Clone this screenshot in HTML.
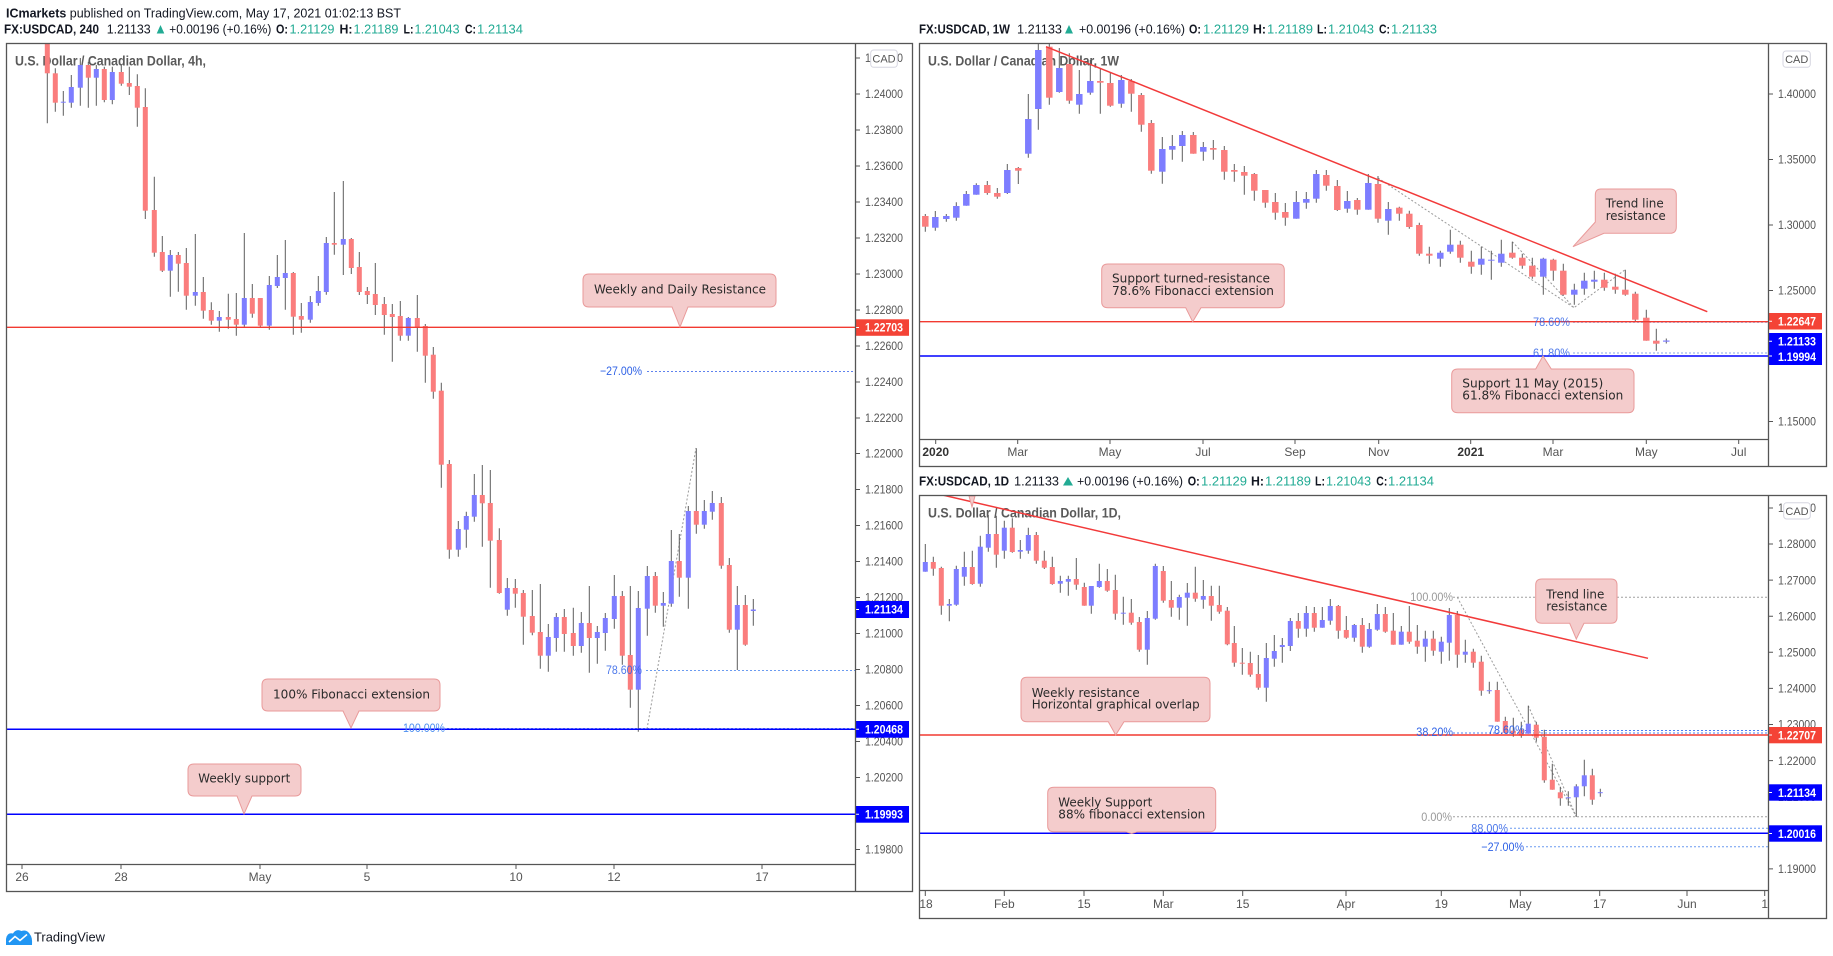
<!DOCTYPE html>
<html><head><meta charset="utf-8"><style>
html,body{margin:0;padding:0;background:#fff;}
svg{display:block;font-family:"Liberation Sans",sans-serif;}
.ax{font-size:12px;fill:#555;}
.lb{font-size:12px;font-weight:bold;fill:#fff;}
.an{font-family:"DejaVu Sans","Liberation Sans",sans-serif;font-size:12.5px;fill:#2a2a2a;}
.fb{font-size:12px;fill:#2f62e6;}
.fg{font-size:12px;fill:#9a9a9a;}
.tt{font-size:14px;font-weight:bold;fill:#5a5a5a;}
.hd{font-size:12.5px;fill:#131722;}
.hb{font-size:12.5px;fill:#131722;font-weight:bold;}
.hv{font-size:12.5px;fill:#22ab94;}
</style></head><body>
<svg width="1833" height="956" viewBox="0 0 1833 956" xmlns="http://www.w3.org/2000/svg">
<defs>
<clipPath id="cL"><rect x="7" y="44" width="848" height="820"/></clipPath>
<clipPath id="cW"><rect x="920" y="44" width="848" height="395"/></clipPath>
<clipPath id="cD"><rect x="920" y="496" width="848" height="394"/></clipPath>
<clipPath id="cWt"><rect x="920" y="440" width="848" height="26"/></clipPath>
<clipPath id="cDt"><rect x="920" y="891" width="848" height="27"/></clipPath>
</defs>
<rect width="1833" height="956" fill="#fff"/>

<!-- HEADERS -->
<text x="6" y="17.4" class="hd" textLength="395" lengthAdjust="spacingAndGlyphs"><tspan font-weight="bold">ICmarkets</tspan> published on TradingView.com, May 17, 2021 01:02:13 BST</text>

<g>
<text x="4" y="33.4" class="hb" textLength="95" lengthAdjust="spacingAndGlyphs">FX:USDCAD, 240</text>
<text x="106.7" y="33.4" class="hd" textLength="44" lengthAdjust="spacingAndGlyphs">1.21133</text>
<polygon points="156.7,33.5 164.3,33.5 160.5,25" fill="#22ab94"/>
<text x="169.3" y="33.4" class="hd" textLength="102" lengthAdjust="spacingAndGlyphs">+0.00196 (+0.16%)</text>
<text x="276" y="33.4" class="hb" textLength="12" lengthAdjust="spacingAndGlyphs">O:</text>
<text x="289.5" y="33.4" class="hv" textLength="45" lengthAdjust="spacingAndGlyphs">1.21129</text>
<text x="339.5" y="33.4" class="hb" textLength="13" lengthAdjust="spacingAndGlyphs">H:</text>
<text x="353.5" y="33.4" class="hv" textLength="45" lengthAdjust="spacingAndGlyphs">1.21189</text>
<text x="403.5" y="33.4" class="hb" textLength="10" lengthAdjust="spacingAndGlyphs">L:</text>
<text x="414.5" y="33.4" class="hv" textLength="45" lengthAdjust="spacingAndGlyphs">1.21043</text>
<text x="465" y="33.4" class="hb" textLength="11" lengthAdjust="spacingAndGlyphs">C:</text>
<text x="477" y="33.4" class="hv" textLength="46" lengthAdjust="spacingAndGlyphs">1.21134</text>
</g>

<g>
<text x="919" y="33.4" class="hb" textLength="91" lengthAdjust="spacingAndGlyphs">FX:USDCAD, 1W</text>
<text x="1017" y="33.4" class="hd" textLength="45" lengthAdjust="spacingAndGlyphs">1.21133</text>
<polygon points="1065,33.5 1073,33.5 1069,25" fill="#22ab94"/>
<text x="1079" y="33.4" class="hd" textLength="106" lengthAdjust="spacingAndGlyphs">+0.00196 (+0.16%)</text>
<text x="1189" y="33.4" class="hb" textLength="12" lengthAdjust="spacingAndGlyphs">O:</text>
<text x="1203" y="33.4" class="hv" textLength="46" lengthAdjust="spacingAndGlyphs">1.21129</text>
<text x="1253" y="33.4" class="hb" textLength="13" lengthAdjust="spacingAndGlyphs">H:</text>
<text x="1267" y="33.4" class="hv" textLength="46" lengthAdjust="spacingAndGlyphs">1.21189</text>
<text x="1317" y="33.4" class="hb" textLength="10" lengthAdjust="spacingAndGlyphs">L:</text>
<text x="1328" y="33.4" class="hv" textLength="46" lengthAdjust="spacingAndGlyphs">1.21043</text>
<text x="1379" y="33.4" class="hb" textLength="11" lengthAdjust="spacingAndGlyphs">C:</text>
<text x="1391" y="33.4" class="hv" textLength="46" lengthAdjust="spacingAndGlyphs">1.21133</text>
</g>

<g>
<text x="919" y="485.4" class="hb" textLength="90" lengthAdjust="spacingAndGlyphs">FX:USDCAD, 1D</text>
<text x="1014" y="485.4" class="hd" textLength="45" lengthAdjust="spacingAndGlyphs">1.21133</text>
<polygon points="1063,485.5 1073,485.5 1068,477" fill="#22ab94"/>
<text x="1077" y="485.4" class="hd" textLength="106" lengthAdjust="spacingAndGlyphs">+0.00196 (+0.16%)</text>
<text x="1187.7" y="485.4" class="hb" textLength="12" lengthAdjust="spacingAndGlyphs">O:</text>
<text x="1201" y="485.4" class="hv" textLength="46" lengthAdjust="spacingAndGlyphs">1.21129</text>
<text x="1251" y="485.4" class="hb" textLength="13" lengthAdjust="spacingAndGlyphs">H:</text>
<text x="1265" y="485.4" class="hv" textLength="46" lengthAdjust="spacingAndGlyphs">1.21189</text>
<text x="1315" y="485.4" class="hb" textLength="10" lengthAdjust="spacingAndGlyphs">L:</text>
<text x="1326" y="485.4" class="hv" textLength="45" lengthAdjust="spacingAndGlyphs">1.21043</text>
<text x="1376.3" y="485.4" class="hb" textLength="11" lengthAdjust="spacingAndGlyphs">C:</text>
<text x="1388" y="485.4" class="hv" textLength="46" lengthAdjust="spacingAndGlyphs">1.21134</text>
</g>

<!-- ================= LEFT PANEL (4h) ================= -->
<g clip-path="url(#cL)">
<text x="15" y="65.5" class="tt" textLength="191" lengthAdjust="spacingAndGlyphs">U.S. Dollar / Canadian Dollar, 4h,</text>
<!-- fib dotted -->
<g fill="none" stroke-width="1" stroke-dasharray="2 2">
<line x1="647" y1="371.5" x2="855" y2="371.5" stroke="#5f82ee"/>
<line x1="646" y1="670.5" x2="855" y2="670.5" stroke="#6a9af0"/>
<line x1="447" y1="728.5" x2="855" y2="728.5" stroke="#6a9af0"/>
<line x1="647" y1="729" x2="696" y2="448" stroke="#9a9a9a"/>
</g>
<path fill="none" stroke="#5d5d5d" stroke-width="1" d="M47.3 30V123.3 M55.3 68.3V111.7 M63.3 91V115.7 M71.3 75V107.7 M80.3 58V105.7 M88.3 61.7V107.7 M96.3 65V105.7 M104.3 66.7V102.3 M112.3 66.7V104.3 M121.3 65V85.7 M129.3 66.7V95 M137.3 74.3V126.7 M145.3 88.3V219 M154.3 176.7V256.7 M162.3 236V272 M170.3 250V296.7 M178.3 252V291.7 M186.3 248V309.7 M195.3 234V305.7 M203.3 277V318.7 M211.3 302.3V324.7 M219.3 311V331.7 M228.3 293.7V328.7 M236.3 293V335.7 M244.3 233V326.7 M252.3 284V317.7 M260.3 298V326.7 M269.3 276V329.7 M277.3 255V288 M285.3 240V309.7 M293.3 272V334.7 M301.3 303V332.7 M310.3 296V322.7 M318.3 276V305.7 M326.3 237V294.7 M334.3 192V254.7 M343.3 181V275 M351.3 238V274 M359.3 252V295 M367.3 287V304 M375.3 263V315 M384.3 297V334.7 M392.3 304V361.7 M400.3 301V340.7 M408.3 317V340.7 M417.3 295V351.7 M425.3 324V382.7 M433.3 347V398.7 M441.3 382.7V487.7 M449.3 460V558.7 M458.3 521V556.7 M466.3 511.7V547.7 M474.3 474V521.7 M482.3 465V546.7 M490.3 470V587.7 M499.3 528.3V593.7 M507.3 578V615.7 M515.3 579V607.7 M523.3 590V644.7 M532.3 590V635.3 M540.3 584V668.7 M548.3 624V671.7 M556.3 613V651.7 M564.3 609V651.7 M573.3 607.7V655.7 M581.3 612V652.7 M589.3 586V672.7 M597.3 626V663.7 M605.3 613V650.7 M614.3 575V628.7 M622.3 591V664.7 M630.3 586V707.7 M638.3 591V731.7 M647.3 566V635.7 M655.3 572V612.7 M663.3 592V626.7 M671.3 530V606.7 M679.3 534V596.7 M688.3 506V608.7 M696.3 448.3V533.7 M704.3 500V528.7 M712.3 491V519.7 M721.3 497V568.7 M729.3 558V632.7 M737.3 586V670 M745.3 595V645.7 M753.3 599V625.7"/>
<g fill="#fa7d7d">
<rect x="44.8" y="30" width="5" height="43.3"/><rect x="52.8" y="73.3" width="5" height="29.4"/><rect x="85.8" y="65" width="5" height="12.7"/><rect x="101.8" y="69" width="5" height="31"/><rect x="118.8" y="72" width="5" height="11.7"/><rect x="126.8" y="83" width="5" height="3.7"/><rect x="134.8" y="86" width="5" height="21.7"/><rect x="142.8" y="107" width="5" height="103.7"/><rect x="151.8" y="210" width="5" height="42.7"/><rect x="159.8" y="252" width="5" height="18.7"/><rect x="175.8" y="255" width="5" height="8.7"/><rect x="183.8" y="263" width="5" height="32.7"/><rect x="200.8" y="292" width="5" height="18.7"/><rect x="208.8" y="310" width="5" height="10.7"/><rect x="225.8" y="317" width="5" height="2.7"/><rect x="233.8" y="319" width="5" height="5.7"/><rect x="249.8" y="298" width="5" height="15.7"/><rect x="257.8" y="298" width="5" height="27.7"/><rect x="290.8" y="273" width="5" height="43.7"/><rect x="298.8" y="316" width="5" height="3.7"/><rect x="331.8" y="243" width="5" height="1.7"/><rect x="348.8" y="239" width="5" height="29"/><rect x="356.8" y="267" width="5" height="25"/><rect x="364.8" y="291" width="5" height="4"/><rect x="372.8" y="294" width="5" height="11"/><rect x="381.8" y="304" width="5" height="11"/><rect x="389.8" y="314" width="5" height="3"/><rect x="397.8" y="316" width="5" height="19.7"/><rect x="414.8" y="318" width="5" height="9.7"/><rect x="422.8" y="326" width="5" height="29.7"/><rect x="430.8" y="354.7" width="5" height="37"/><rect x="438.8" y="390.7" width="5" height="74"/><rect x="446.8" y="464" width="5" height="85.7"/><rect x="479.8" y="495" width="5" height="8.3"/><rect x="487.8" y="503" width="5" height="37.7"/><rect x="496.8" y="540" width="5" height="53"/><rect x="512.8" y="588" width="5" height="5.7"/><rect x="520.8" y="593" width="5" height="23.7"/><rect x="529.8" y="616" width="5" height="16.7"/><rect x="537.8" y="632" width="5" height="23.7"/><rect x="561.8" y="617" width="5" height="17"/><rect x="570.8" y="633" width="5" height="13"/><rect x="586.8" y="623" width="5" height="15"/><rect x="619.8" y="596" width="5" height="59.7"/><rect x="627.8" y="655" width="5" height="34.7"/><rect x="652.8" y="576" width="5" height="29.7"/><rect x="676.8" y="561" width="5" height="16.7"/><rect x="693.8" y="511" width="5" height="13.7"/><rect x="718.8" y="503" width="5" height="62.7"/><rect x="726.8" y="565" width="5" height="64.7"/><rect x="742.8" y="605" width="5" height="39.7"/>
</g>
<g fill="#7d7dff">
<rect x="60.8" y="101.7" width="5" height="1"/><rect x="68.8" y="87" width="5" height="15.7"/><rect x="77.8" y="65" width="5" height="22.7"/><rect x="93.8" y="69" width="5" height="8.7"/><rect x="109.8" y="72" width="5" height="28"/><rect x="167.8" y="255" width="5" height="15.7"/><rect x="192.8" y="292" width="5" height="3.7"/><rect x="216.8" y="317" width="5" height="3.7"/><rect x="241.8" y="298" width="5" height="26.7"/><rect x="266.8" y="285" width="5" height="40.7"/><rect x="274.8" y="277" width="5" height="9"/><rect x="282.8" y="273" width="5" height="5"/><rect x="307.8" y="302" width="5" height="17.7"/><rect x="315.8" y="291" width="5" height="12"/><rect x="323.8" y="243" width="5" height="49"/><rect x="340.8" y="239" width="5" height="5.7"/><rect x="405.8" y="318" width="5" height="17.7"/><rect x="455.8" y="529" width="5" height="20.7"/><rect x="463.8" y="516" width="5" height="13.7"/><rect x="471.8" y="495" width="5" height="21.7"/><rect x="504.8" y="588" width="5" height="21.7"/><rect x="545.8" y="637" width="5" height="18.7"/><rect x="553.8" y="617" width="5" height="21"/><rect x="578.8" y="623" width="5" height="23"/><rect x="594.8" y="632" width="5" height="6"/><rect x="602.8" y="618" width="5" height="15"/><rect x="611.8" y="596" width="5" height="23"/><rect x="635.8" y="608" width="5" height="81.7"/><rect x="644.8" y="576" width="5" height="32.7"/><rect x="660.8" y="603" width="5" height="2.7"/><rect x="668.8" y="561" width="5" height="42.7"/><rect x="685.8" y="511" width="5" height="66.7"/><rect x="701.8" y="511" width="5" height="13.7"/><rect x="709.8" y="503" width="5" height="8.7"/><rect x="734.8" y="605" width="5" height="24.7"/><rect x="750.8" y="609.5" width="5" height="1.5"/>
</g>
<!-- horizontal levels -->
<line x1="7" y1="327.3" x2="855" y2="327.3" stroke="#f23a30" stroke-width="1.4"/>
<line x1="7" y1="729.3" x2="855" y2="729.3" stroke="#0000ff" stroke-width="1.5"/>
<line x1="7" y1="814.3" x2="855" y2="814.3" stroke="#0000ff" stroke-width="1.5"/>
<!-- fib labels -->
<text x="600" y="375.2" class="fb" textLength="42" lengthAdjust="spacingAndGlyphs">−27.00%</text>
<text x="606" y="674.2" class="fb" textLength="36" lengthAdjust="spacingAndGlyphs" fill-opacity="0.85">78.60%</text>
<text x="403" y="732.2" class="fb" textLength="42" lengthAdjust="spacingAndGlyphs" style="fill:#4d8ff0">100.00%</text>
<!-- annotations -->
<g fill="#f4cccc" stroke="#e99a9a" stroke-width="1">
<path d="M589 274 H770 Q776 274 776 280 V301 Q776 307 770 307 H688 L680 327 L672 307 H589 Q583 307 583 301 V280 Q583 274 589 274 Z"/>
<path d="M268 679 H434 Q440 679 440 685 V705 Q440 711 434 711 H359 L351 728 L343 711 H268 Q262 711 262 705 V685 Q262 679 268 679 Z"/>
<path d="M194 764 H295 Q301 764 301 770 V790 Q301 796 295 796 H252 L244 814 L237 796 H194 Q188 796 188 790 V770 Q188 764 194 764 Z"/>
</g>
<text x="594" y="293.7" class="an" textLength="172" lengthAdjust="spacingAndGlyphs">Weekly and Daily Resistance</text>
<text x="273" y="698.7" class="an" textLength="157" lengthAdjust="spacingAndGlyphs">100% Fibonacci extension</text>
<text x="198.3" y="782.7" class="an" textLength="92" lengthAdjust="spacingAndGlyphs">Weekly support</text>
</g>

<!-- left price axis -->
<g class="ax">
<text x="865" y="62" textLength="38" lengthAdjust="spacingAndGlyphs">1.24200</text>
<text x="865" y="98" textLength="38" lengthAdjust="spacingAndGlyphs">1.24000</text>
<text x="865" y="134" textLength="38" lengthAdjust="spacingAndGlyphs">1.23800</text>
<text x="865" y="170" textLength="38" lengthAdjust="spacingAndGlyphs">1.23600</text>
<text x="865" y="206" textLength="38" lengthAdjust="spacingAndGlyphs">1.23400</text>
<text x="865" y="242" textLength="38" lengthAdjust="spacingAndGlyphs">1.23200</text>
<text x="865" y="278" textLength="38" lengthAdjust="spacingAndGlyphs">1.23000</text>
<text x="865" y="314" textLength="38" lengthAdjust="spacingAndGlyphs">1.22800</text>
<text x="865" y="350" textLength="38" lengthAdjust="spacingAndGlyphs">1.22600</text>
<text x="865" y="386" textLength="38" lengthAdjust="spacingAndGlyphs">1.22400</text>
<text x="865" y="422" textLength="38" lengthAdjust="spacingAndGlyphs">1.22200</text>
<text x="865" y="457.5" textLength="38" lengthAdjust="spacingAndGlyphs">1.22000</text>
<text x="865" y="493.5" textLength="38" lengthAdjust="spacingAndGlyphs">1.21800</text>
<text x="865" y="529.5" textLength="38" lengthAdjust="spacingAndGlyphs">1.21600</text>
<text x="865" y="565.5" textLength="38" lengthAdjust="spacingAndGlyphs">1.21400</text>
<text x="865" y="601.5" textLength="38" lengthAdjust="spacingAndGlyphs">1.21200</text>
<text x="865" y="637.5" textLength="38" lengthAdjust="spacingAndGlyphs">1.21000</text>
<text x="865" y="673.5" textLength="38" lengthAdjust="spacingAndGlyphs">1.20800</text>
<text x="865" y="709.5" textLength="38" lengthAdjust="spacingAndGlyphs">1.20600</text>
<text x="865" y="745.5" textLength="38" lengthAdjust="spacingAndGlyphs">1.20400</text>
<text x="865" y="781.5" textLength="38" lengthAdjust="spacingAndGlyphs">1.20200</text>
<text x="865" y="817.5" textLength="38" lengthAdjust="spacingAndGlyphs">1.20000</text>
<text x="865" y="853.5" textLength="38" lengthAdjust="spacingAndGlyphs">1.19800</text>
</g>
<path stroke="#555" stroke-width="1" d="M855 58H860M855 94H860M855 130H860M855 166H860M855 202H860M855 238H860M855 274H860M855 310H860M855 346H860M855 382H860M855 418H860M855 453.5H860M855 489.5H860M855 525.5H860M855 561.5H860M855 597.5H860M855 633.5H860M855 669.5H860M855 705.5H860M855 741.5H860M855 777.5H860M855 813.5H860M855 849.5H860"/>
<!-- left labels -->
<rect x="855" y="319.3" width="54" height="16.5" fill="#f44336"/>
<rect x="855" y="601" width="54" height="17" fill="#0000ff"/>
<rect x="855" y="721" width="54" height="16.7" fill="#0000ff"/>
<rect x="855" y="806" width="54" height="16.7" fill="#0000ff"/>
<path stroke="#fff" stroke-width="1" d="M855 327.5H859M855 609.5H859M855 729.3H859M855 814.3H859"/>
<text x="865" y="331.7" class="lb" textLength="38" lengthAdjust="spacingAndGlyphs">1.22703</text>
<text x="865" y="613.7" class="lb" textLength="38" lengthAdjust="spacingAndGlyphs">1.21134</text>
<text x="865" y="733.5" class="lb" textLength="38" lengthAdjust="spacingAndGlyphs">1.20468</text>
<text x="865" y="818.5" class="lb" textLength="38" lengthAdjust="spacingAndGlyphs">1.19993</text>
<!-- CAD -->
<rect x="870.7" y="50" width="26.6" height="17.3" rx="3" fill="#fff" stroke="#d6d6e0"/>
<text x="884" y="62.5" font-size="11" fill="#555" text-anchor="middle">CAD</text>
<!-- left time axis -->
<path stroke="#555" stroke-width="1" d="M22 864V869M121 864V869M260 864V869M367 864V869M516 864V869M614 864V869M762 864V869"/>
<g class="ax" text-anchor="middle">
<text x="22" y="881.2">26</text><text x="121" y="881.2">28</text><text x="260" y="881.2">May</text><text x="367" y="881.2">5</text><text x="516" y="881.2">10</text><text x="614" y="881.2">12</text><text x="762" y="881.2">17</text>
</g>
<!-- left frame -->
<g fill="none" stroke="#555" stroke-width="1.3">
<rect x="6.5" y="43.5" width="906" height="848"/>
<line x1="855.5" y1="43.5" x2="855.5" y2="891.5"/>
<line x1="6.5" y1="864.5" x2="855.5" y2="864.5"/>
</g>

<!-- ================= WEEKLY PANEL ================= -->
<g clip-path="url(#cW)">
<text x="928" y="65.5" class="tt" textLength="191" lengthAdjust="spacingAndGlyphs">U.S. Dollar / Canadian Dollar, 1W</text>
<g fill="none" stroke="#9a9a9a" stroke-width="1" stroke-dasharray="2 2">
<polyline points="1378,178 1574,307.7 1624.7,270"/>
<line x1="1512.3" y1="241.7" x2="1574" y2="307.7"/>
</g>
<g fill="none" stroke-width="1" stroke-dasharray="2 2">
<line x1="1573" y1="322.3" x2="1768" y2="322.3" stroke="#6a9af0"/>
<line x1="1573" y1="353" x2="1768" y2="353" stroke="#8aa6e8"/>
</g>
<path fill="none" stroke="#5d5d5d" stroke-width="1" d="M925.3 214V231.7 M935.3 211V230.7 M946.3 214V221.7 M956.3 202.3V220.7 M966.3 191V205.7 M976.3 183.3V194.7 M987.3 181V194.7 M997.3 188V198.7 M1007.3 164V194 M1018.3 167V184 M1028.3 94V157.7 M1038.3 40V129.7 M1049.3 40V104.7 M1059.3 48V92.7 M1069.3 53.3V103.7 M1079.3 70V113.7 M1090.3 60V94.7 M1100.3 68.3V113.7 M1110.3 72.7V106.7 M1121.3 75V107.7 M1131.3 79V111.7 M1141.3 93V131.7 M1151.3 120V173.7 M1162.3 137V183.7 M1172.3 135V159.7 M1182.3 131V161.7 M1193.3 132V153.7 M1203.3 142V160.7 M1213.3 140V159.7 M1224.3 146V179.7 M1234.3 164V181.7 M1244.3 166V194.7 M1254.3 173V200.7 M1265.3 190V207.7 M1275.3 193V219.7 M1285.3 203V225.7 M1296.3 191V218.7 M1306.3 192V208.7 M1316.3 170V202.7 M1326.3 170V190.7 M1337.3 180V211 M1347.3 191V212.7 M1357.3 198V214.7 M1368.3 174V209.7 M1378 176V222.7 M1388.3 202V234.7 M1399.3 206.7V220.7 M1409.3 210.7V228.7 M1419.3 222.7V255.7 M1429.3 246.7V263.7 M1440.3 250.7V266.7 M1450.3 229.7V253.7 M1460.3 240.7V262.7 M1471.3 250.7V273.7 M1481.3 246.7V274.7 M1491.3 250.7V279.7 M1501.3 239.7V266.7 M1512.3 241.7V258.7 M1522.3 253.7V268.7 M1532.3 257.7V278.7 M1543.3 257.7V294.7 M1553.3 258.7V280.7 M1563.3 263.7V295.7 M1574.3 283.7V304.7 M1584.3 272.7V294.7 M1594.3 270.7V288.7 M1604.3 272.7V290.7 M1615.3 273.7V293.7 M1625.3 269.7V295.7 M1635.3 291.7V321.7 M1646.3 309.7V340.7 M1656.3 328.7V350.7 M1666.3 338.5V343.5"/>
<g fill="#fa7d7d">
<rect x="922.05" y="216" width="6.5" height="10.7"/><rect x="984.05" y="185" width="6.5" height="8"/><rect x="994.05" y="193" width="6.5" height="3.7"/><rect x="1015.05" y="168" width="6.5" height="2.7"/><rect x="1046.05" y="46.7" width="6.5" height="51"/><rect x="1066.05" y="64" width="6.5" height="36.7"/><rect x="1097.05" y="81" width="6.5" height="1.7"/><rect x="1107.05" y="83" width="6.5" height="22.7"/><rect x="1128.05" y="81" width="6.5" height="12.7"/><rect x="1138.05" y="95" width="6.5" height="29.7"/><rect x="1148.05" y="123" width="6.5" height="47.7"/><rect x="1190.05" y="135" width="6.5" height="18.7"/><rect x="1210.05" y="148" width="6.5" height="1.7"/><rect x="1221.05" y="150" width="6.5" height="21.7"/><rect x="1231.05" y="170" width="6.5" height="1.7"/><rect x="1241.05" y="172" width="6.5" height="3.7"/><rect x="1251.05" y="174" width="6.5" height="16.7"/><rect x="1262.05" y="190" width="6.5" height="12.7"/><rect x="1272.05" y="202" width="6.5" height="10.7"/><rect x="1282.05" y="212" width="6.5" height="5.7"/><rect x="1323.05" y="175" width="6.5" height="10.7"/><rect x="1334.05" y="186" width="6.5" height="24"/><rect x="1354.05" y="200" width="6.5" height="9.7"/><rect x="1374.75" y="184" width="6.5" height="34.7"/><rect x="1396.05" y="207.7" width="6.5" height="6"/><rect x="1406.05" y="213.7" width="6.5" height="13.3"/><rect x="1416.05" y="225" width="6.5" height="28.7"/><rect x="1426.05" y="253.7" width="6.5" height="2"/><rect x="1457.05" y="244.7" width="6.5" height="13"/><rect x="1468.05" y="261.7" width="6.5" height="5"/><rect x="1509.05" y="252.7" width="6.5" height="5"/><rect x="1519.05" y="257.7" width="6.5" height="8"/><rect x="1529.05" y="265.7" width="6.5" height="11"/><rect x="1550.05" y="259.7" width="6.5" height="11"/><rect x="1560.05" y="270.7" width="6.5" height="24"/><rect x="1601.05" y="279.7" width="6.5" height="8"/><rect x="1612.05" y="286.7" width="6.5" height="3"/><rect x="1622.05" y="289.7" width="6.5" height="5"/><rect x="1632.05" y="293.7" width="6.5" height="26"/><rect x="1643.05" y="317.7" width="6.5" height="23"/><rect x="1653.05" y="340.7" width="6.5" height="3"/>
</g>
<g fill="#7d7dff">
<rect x="932.05" y="217" width="6.5" height="10.7"/><rect x="943.05" y="216" width="6.5" height="3"/><rect x="953.05" y="206" width="6.5" height="11.7"/><rect x="963.05" y="194" width="6.5" height="11.7"/><rect x="973.05" y="185" width="6.5" height="9.7"/><rect x="1004.05" y="170" width="6.5" height="23"/><rect x="1025.05" y="119" width="6.5" height="34.7"/><rect x="1035.05" y="50" width="6.5" height="59"/><rect x="1056.05" y="68" width="6.5" height="24"/><rect x="1076.05" y="94" width="6.5" height="10.7"/><rect x="1087.05" y="81" width="6.5" height="11.7"/><rect x="1118.05" y="80" width="6.5" height="23.7"/><rect x="1159.05" y="149" width="6.5" height="22.7"/><rect x="1169.05" y="146" width="6.5" height="3.7"/><rect x="1179.05" y="135" width="6.5" height="11"/><rect x="1200.05" y="147" width="6.5" height="4.7"/><rect x="1293.05" y="202" width="6.5" height="16.7"/><rect x="1303.05" y="199" width="6.5" height="3.7"/><rect x="1313.05" y="174" width="6.5" height="24.7"/><rect x="1344.05" y="201" width="6.5" height="7.7"/><rect x="1365.05" y="183" width="6.5" height="26.7"/><rect x="1385.05" y="209" width="6.5" height="11.7"/><rect x="1437.05" y="252.7" width="6.5" height="6"/><rect x="1447.05" y="244.7" width="6.5" height="7"/><rect x="1478.05" y="258.7" width="6.5" height="6"/><rect x="1488.05" y="259.7" width="6.5" height="1"/><rect x="1498.05" y="253.7" width="6.5" height="9"/><rect x="1540.05" y="258.7" width="6.5" height="18"/><rect x="1571.05" y="289.7" width="6.5" height="5"/><rect x="1581.05" y="280.7" width="6.5" height="8"/><rect x="1591.05" y="279.7" width="6.5" height="2"/><rect x="1663.05" y="340.5" width="6.5" height="1.2"/>
</g>
<line x1="1046" y1="46.7" x2="1707.3" y2="311.7" stroke="#f23a3a" stroke-width="1.5"/>
<line x1="920" y1="321.7" x2="1768" y2="321.7" stroke="#f23a30" stroke-width="1.4"/>
<line x1="920" y1="356" x2="1768" y2="356" stroke="#0000ff" stroke-width="1.5"/>
<text x="1533" y="325.9" class="fb" textLength="37" lengthAdjust="spacingAndGlyphs" fill-opacity="0.85">78.60%</text>
<text x="1533" y="356.9" class="fb" textLength="37" lengthAdjust="spacingAndGlyphs" fill-opacity="0.85">61.80%</text>
<g fill="#f4cccc" stroke="#e99a9a" stroke-width="1">
<path d="M1108 264 H1278 Q1284.3 264 1284.3 270 V301.7 Q1284.3 307.7 1278 307.7 H1201 L1192.7 321.7 L1185.7 307.7 H1108 Q1101.7 307.7 1101.7 301.7 V270 Q1101.7 264 1108 264 Z"/>
<path d="M1601 189 H1670 Q1676.3 189 1676.3 195 V227 Q1676.3 233.3 1670 233.3 H1604 L1573 246.7 L1595.3 222 V195 Q1595.3 189 1601 189 Z"/>
<path d="M1458 369 H1535.7 L1543 356 L1551.3 369 H1628 Q1634 369 1634 375 V406.7 Q1634 412.7 1628 412.7 H1458 Q1451.7 412.7 1451.7 406.7 V375 Q1451.7 369 1458 369 Z"/>
</g>
<text x="1112" y="282.7" class="an" textLength="158" lengthAdjust="spacingAndGlyphs">Support turned-resistance</text>
<text x="1112" y="295.1" class="an" textLength="162" lengthAdjust="spacingAndGlyphs">78.6% Fibonacci extension</text>
<text x="1605.7" y="207.7" class="an" textLength="58" lengthAdjust="spacingAndGlyphs">Trend line</text>
<text x="1605.7" y="220.1" class="an" textLength="60" lengthAdjust="spacingAndGlyphs">resistance</text>
<text x="1462.3" y="387.7" class="an" textLength="141" lengthAdjust="spacingAndGlyphs">Support 11 May (2015)</text>
<text x="1462.3" y="399.7" class="an" textLength="161" lengthAdjust="spacingAndGlyphs">61.8% Fibonacci extension</text>
</g>
<!-- weekly price axis -->
<g class="ax">
<text x="1778" y="98.2" textLength="38" lengthAdjust="spacingAndGlyphs">1.40000</text>
<text x="1778" y="163.7" textLength="38" lengthAdjust="spacingAndGlyphs">1.35000</text>
<text x="1778" y="229.2" textLength="38" lengthAdjust="spacingAndGlyphs">1.30000</text>
<text x="1778" y="294.7" textLength="38" lengthAdjust="spacingAndGlyphs">1.25000</text>
<text x="1778" y="360.2" textLength="38" lengthAdjust="spacingAndGlyphs">1.20000</text>
<text x="1778" y="425.7" textLength="38" lengthAdjust="spacingAndGlyphs">1.15000</text>
</g>
<path stroke="#555" stroke-width="1" d="M1768 94H1773M1768 159.5H1773M1768 225H1773M1768 290.5H1773M1768 421.5H1773"/>
<rect x="1768" y="313" width="54" height="16.5" fill="#f44336"/>
<rect x="1768" y="333" width="54" height="16.5" fill="#0000ff"/>
<rect x="1768" y="349.5" width="54" height="15.5" fill="#0000ff"/>
<path stroke="#fff" stroke-width="1" d="M1768 321.3H1772M1768 341.2H1772M1768 356H1772"/>
<text x="1778" y="325.5" class="lb" textLength="38" lengthAdjust="spacingAndGlyphs">1.22647</text>
<text x="1778" y="345.4" class="lb" textLength="38" lengthAdjust="spacingAndGlyphs">1.21133</text>
<text x="1778" y="361.2" class="lb" textLength="38" lengthAdjust="spacingAndGlyphs">1.19994</text>
<rect x="1783" y="51" width="27.3" height="16.3" rx="3" fill="#fff" stroke="#d6d6e0"/>
<text x="1796.7" y="63" font-size="11" fill="#555" text-anchor="middle">CAD</text>
<!-- weekly time axis -->
<path stroke="#555" stroke-width="1" d="M935.7 439V444M1017.7 439V444M1110 439V444M1203 439V444M1295 439V444M1378.7 439V444M1470.7 439V444M1553 439V444M1646.3 439V444M1738.7 439V444"/>
<g class="ax" text-anchor="middle" clip-path="url(#cWt)">
<text x="935.7" y="456.2" style="font-weight:bold;fill:#333">2020</text><text x="1017.7" y="456.2">Mar</text><text x="1110" y="456.2">May</text><text x="1203" y="456.2">Jul</text><text x="1295" y="456.2">Sep</text><text x="1378.7" y="456.2">Nov</text><text x="1470.7" y="456.2" style="font-weight:bold;fill:#333">2021</text><text x="1553" y="456.2">Mar</text><text x="1646.3" y="456.2">May</text><text x="1738.7" y="456.2">Jul</text>
</g>
<g fill="none" stroke="#555" stroke-width="1.3">
<rect x="919.5" y="43.5" width="907" height="423"/>
<line x1="1768.5" y1="43.5" x2="1768.5" y2="466.5"/>
<line x1="919.5" y1="439.5" x2="1768.5" y2="439.5"/>
</g>

<!-- ================= DAILY PANEL ================= -->
<g clip-path="url(#cD)">
<text x="928" y="517.7" class="tt" textLength="193" lengthAdjust="spacingAndGlyphs">U.S. Dollar / Canadian Dollar, 1D,</text>
<g fill="none" stroke-width="1" stroke-dasharray="2 2">
<line x1="1453" y1="597.3" x2="1768" y2="597.3" stroke="#a0a0a0"/>
<line x1="1453" y1="816.7" x2="1768" y2="816.7" stroke="#a0a0a0"/>
<line x1="1453" y1="733" x2="1768" y2="733" stroke="#4f7ff0"/>
<line x1="1525" y1="730.5" x2="1768" y2="730.5" stroke="#4f7ff0"/>
<line x1="1510" y1="828.3" x2="1768" y2="828.3" stroke="#6a9af0"/>
<line x1="1526" y1="846.7" x2="1768" y2="846.7" stroke="#6a9af0"/>
<line x1="1457.3" y1="597.3" x2="1576.3" y2="816.7" stroke="#9a9a9a"/>
<line x1="1528.3" y1="705.7" x2="1576.3" y2="816.7" stroke="#9a9a9a"/>
</g>
<path fill="none" stroke="#5d5d5d" stroke-width="1" d="M925.3 544V571.7 M933.3 556.7V575.7 M941.3 566.7V614.7 M949.3 599V621.3 M956.3 565.7V605.7 M964.3 551.7V585.7 M972.3 550.7V584.7 M980.3 535.7V586.7 M988.3 515V551.7 M996.3 515.7V567.7 M1004.3 520.7V558.7 M1012.3 518.3V552.7 M1020.3 540V558.7 M1028.3 527.7V553.7 M1036.3 532V563.7 M1044.3 550.7V569 M1052.3 556.7V584.7 M1060.3 575.7V592.7 M1068.3 575.7V595.7 M1076.3 558V589.7 M1084.3 582.7V605.7 M1091.3 586V613.7 M1099.3 563.7V587.7 M1107.3 569V591.7 M1115.3 574.7V619.7 M1123.3 596.7V624.7 M1131.3 599V624.7 M1139.3 617V651.7 M1147.3 611V664.7 M1155.3 563.7V619.7 M1163.3 566V602.7 M1171.3 581V616.7 M1179.3 594.7V619.7 M1187.3 583V625.7 M1195.3 566.7V601.7 M1203.3 580V608.7 M1211.3 585.7V620.7 M1219.3 585.7V613.7 M1227.3 607V645.3 M1234.3 626V666.7 M1242.3 648V674.7 M1250.3 651.7V676.7 M1258.3 655V689.7 M1266.3 643V701.7 M1274.3 635V666.7 M1282.3 638V662.7 M1290.3 618V651 M1298.3 613V637.7 M1306.3 606V636.7 M1314.3 607V631.7 M1322.3 607V627.7 M1330.3 599V624.7 M1338.3 605V638.7 M1346.3 616V638.7 M1354.3 624V641.7 M1362.3 618V652.7 M1369.3 623V647.7 M1377.3 604V630.7 M1385.3 607V632.7 M1393.3 613V644.7 M1401.3 626V644.7 M1409.3 606V643.7 M1417.3 625V653.7 M1425.3 630.7V661.7 M1433.3 630.7V655.7 M1441.3 636.7V663.7 M1449.3 608V660.7 M1457.3 611V667.7 M1465.3 639.7V662.7 M1473.3 648.7V667.7 M1481.3 655.7V695.7 M1489.3 681.7V693.7 M1497.3 681.7V721.7 M1505.3 716.7V732.7 M1513.3 717.7V736.7 M1521.3 721.7V737.7 M1528.3 705.7V733.7 M1536.3 721.7V741.7 M1544.3 729.7V782.7 M1552.3 763.7V789.7 M1560.3 786.7V805.7 M1568.3 791.3V805.7 M1576.3 784.3V816.7 M1584.3 759.7V796.3 M1592.3 768.7V804.7 M1600.3 788.7V796.7"/>
<g fill="#fa7d7d">
<rect x="930.8" y="562" width="5" height="6.7"/><rect x="938.8" y="568" width="5" height="37.7"/><rect x="969.8" y="567" width="5" height="17"/><rect x="993.8" y="534" width="5" height="20.7"/><rect x="1009.8" y="527.7" width="5" height="24.3"/><rect x="1033.8" y="535" width="5" height="25.7"/><rect x="1041.8" y="560.7" width="5" height="7"/><rect x="1049.8" y="567" width="5" height="17"/><rect x="1073.8" y="579" width="5" height="5.7"/><rect x="1081.8" y="587" width="5" height="18.7"/><rect x="1104.8" y="581" width="5" height="9.7"/><rect x="1112.8" y="590" width="5" height="23.7"/><rect x="1128.8" y="612.7" width="5" height="10"/><rect x="1136.8" y="622" width="5" height="27.7"/><rect x="1160.8" y="571" width="5" height="29.7"/><rect x="1168.8" y="600" width="5" height="7.7"/><rect x="1192.8" y="592.7" width="5" height="6"/><rect x="1208.8" y="596" width="5" height="9.7"/><rect x="1216.8" y="605" width="5" height="6.7"/><rect x="1224.8" y="610.7" width="5" height="33.6"/><rect x="1231.8" y="643" width="5" height="19.7"/><rect x="1239.8" y="662.7" width="5" height="1"/><rect x="1247.8" y="663" width="5" height="11.7"/><rect x="1255.8" y="674" width="5" height="13.7"/><rect x="1295.8" y="621" width="5" height="7.7"/><rect x="1311.8" y="613" width="5" height="14.7"/><rect x="1335.8" y="606" width="5" height="24.7"/><rect x="1343.8" y="630" width="5" height="7.7"/><rect x="1359.8" y="625" width="5" height="21.7"/><rect x="1382.8" y="614" width="5" height="17.7"/><rect x="1390.8" y="630.7" width="5" height="14"/><rect x="1406.8" y="631.7" width="5" height="10"/><rect x="1414.8" y="640.7" width="5" height="6"/><rect x="1430.8" y="638.7" width="5" height="12"/><rect x="1454.8" y="615" width="5" height="39.7"/><rect x="1470.8" y="651.7" width="5" height="11"/><rect x="1478.8" y="661.7" width="5" height="29"/><rect x="1494.8" y="690" width="5" height="31.7"/><rect x="1502.8" y="721" width="5" height="11.7"/><rect x="1510.8" y="730.7" width="5" height="3"/><rect x="1518.8" y="729.7" width="5" height="6"/><rect x="1533.8" y="724.7" width="5" height="13"/><rect x="1541.8" y="736.7" width="5" height="43.6"/><rect x="1549.8" y="779.7" width="5" height="10"/><rect x="1557.8" y="792.3" width="5" height="6"/><rect x="1589.8" y="775.3" width="5" height="24.4"/>
</g>
<g fill="#7d7dff">
<rect x="922.8" y="562" width="5" height="9.7"/><rect x="946.8" y="604" width="5" height="1.7"/><rect x="953.8" y="569" width="5" height="35.7"/><rect x="961.8" y="567" width="5" height="9.7"/><rect x="977.8" y="546.7" width="5" height="37"/><rect x="985.8" y="534" width="5" height="13.7"/><rect x="1001.8" y="527.7" width="5" height="23"/><rect x="1017.8" y="550" width="5" height="1.7"/><rect x="1025.8" y="535" width="5" height="15.7"/><rect x="1057.8" y="581" width="5" height="2.7"/><rect x="1065.8" y="579" width="5" height="2.7"/><rect x="1088.8" y="586" width="5" height="19.7"/><rect x="1096.8" y="581" width="5" height="6"/><rect x="1120.8" y="612.7" width="5" height="1"/><rect x="1144.8" y="618" width="5" height="31.7"/><rect x="1152.8" y="566" width="5" height="52.7"/><rect x="1176.8" y="597" width="5" height="10.7"/><rect x="1184.8" y="592.7" width="5" height="5"/><rect x="1200.8" y="596" width="5" height="3.7"/><rect x="1263.8" y="658" width="5" height="29.7"/><rect x="1271.8" y="651" width="5" height="7.7"/><rect x="1279.8" y="645" width="5" height="2"/><rect x="1287.8" y="621" width="5" height="25"/><rect x="1303.8" y="613" width="5" height="15.7"/><rect x="1319.8" y="620" width="5" height="7.7"/><rect x="1327.8" y="606" width="5" height="14.7"/><rect x="1351.8" y="625" width="5" height="12.7"/><rect x="1366.8" y="629" width="5" height="17.7"/><rect x="1374.8" y="614" width="5" height="15.7"/><rect x="1398.8" y="631.7" width="5" height="13"/><rect x="1422.8" y="638.7" width="5" height="8"/><rect x="1438.8" y="641.7" width="5" height="10"/><rect x="1446.8" y="615" width="5" height="27.7"/><rect x="1462.8" y="651.7" width="5" height="3"/><rect x="1486.8" y="690.2" width="5" height="1"/><rect x="1525.8" y="723.7" width="5" height="10"/><rect x="1565.8" y="797.3" width="5" height="1"/><rect x="1573.8" y="786.3" width="5" height="11"/><rect x="1581.8" y="775.3" width="5" height="11"/><rect x="1597.8" y="792.2" width="5" height="1"/>
</g>
<line x1="920" y1="489.8" x2="1648" y2="658.3" stroke="#f23a3a" stroke-width="1.5"/>
<line x1="920" y1="735" x2="1768" y2="735" stroke="#f23a30" stroke-width="1.4"/>
<line x1="920" y1="833.3" x2="1768" y2="833.3" stroke="#0000ff" stroke-width="1.5"/>
<polygon points="969,496 975,496 972,507" fill="#f4cccc" stroke="#e99a9a" stroke-width="1"/>
<text x="1410.3" y="600.9" class="fg" textLength="42.7" lengthAdjust="spacingAndGlyphs">100.00%</text>
<text x="1416.3" y="735.9" class="fb" textLength="36.7" lengthAdjust="spacingAndGlyphs">38.20%</text>
<text x="1488" y="734.2" class="fb" textLength="36.7" lengthAdjust="spacingAndGlyphs">78.60%</text>
<text x="1421.3" y="820.9" class="fg" textLength="30.7" lengthAdjust="spacingAndGlyphs">0.00%</text>
<text x="1471.3" y="832.5" class="fb" textLength="36.7" lengthAdjust="spacingAndGlyphs" fill-opacity="0.85">88.00%</text>
<text x="1481.3" y="850.9" class="fb" textLength="42.7" lengthAdjust="spacingAndGlyphs">−27.00%</text>
<g fill="#f4cccc" stroke="#e99a9a" stroke-width="1">
<path d="M1027 677.3 H1204 Q1210 677.3 1210 683.3 V715.7 Q1210 721.7 1204 721.7 H1124 L1115.7 735 L1108.3 721.7 H1027 Q1021 721.7 1021 715.7 V683.3 Q1021 677.3 1027 677.3 Z"/>
<path d="M1054 787.3 H1209.7 Q1215.7 787.3 1215.7 793.3 V825.7 Q1215.7 831.7 1209.7 831.7 H1138 L1131.7 833.5 L1125 831.7 H1054 Q1047.7 831.7 1047.7 825.7 V793.3 Q1047.7 787.3 1054 787.3 Z"/>
<path d="M1542 579 H1611 Q1617 579 1617 585 V617.3 Q1617 623.3 1611 623.3 H1584 L1576.3 639 L1569.7 623.3 H1542 Q1535.7 623.3 1535.7 617.3 V585 Q1535.7 579 1542 579 Z"/>
</g>
<text x="1031.7" y="697.1" class="an" textLength="108" lengthAdjust="spacingAndGlyphs">Weekly resistance</text>
<text x="1031.7" y="708.7" class="an" textLength="168" lengthAdjust="spacingAndGlyphs">Horizontal graphical overlap</text>
<text x="1058.3" y="806.7" class="an" textLength="94" lengthAdjust="spacingAndGlyphs">Weekly Support</text>
<text x="1058.3" y="818.7" class="an" textLength="147" lengthAdjust="spacingAndGlyphs">88% fibonacci extension</text>
<text x="1546.3" y="598.4" class="an" textLength="58" lengthAdjust="spacingAndGlyphs">Trend line</text>
<text x="1546.3" y="610.7" class="an" textLength="61" lengthAdjust="spacingAndGlyphs">resistance</text>
</g>
<!-- daily price axis -->
<g class="ax">
<text x="1778" y="512.2" textLength="38" lengthAdjust="spacingAndGlyphs">1.29000</text>
<text x="1778" y="548.2" textLength="38" lengthAdjust="spacingAndGlyphs">1.28000</text>
<text x="1778" y="584.3" textLength="38" lengthAdjust="spacingAndGlyphs">1.27000</text>
<text x="1778" y="620.4" textLength="38" lengthAdjust="spacingAndGlyphs">1.26000</text>
<text x="1778" y="656.5" textLength="38" lengthAdjust="spacingAndGlyphs">1.25000</text>
<text x="1778" y="692.6" textLength="38" lengthAdjust="spacingAndGlyphs">1.24000</text>
<text x="1778" y="728.7" textLength="38" lengthAdjust="spacingAndGlyphs">1.23000</text>
<text x="1778" y="764.8" textLength="38" lengthAdjust="spacingAndGlyphs">1.22000</text>
<text x="1778" y="800.9" textLength="38" lengthAdjust="spacingAndGlyphs">1.21000</text>
<text x="1778" y="837" textLength="38" lengthAdjust="spacingAndGlyphs">1.20000</text>
<text x="1778" y="873.1" textLength="38" lengthAdjust="spacingAndGlyphs">1.19000</text>
</g>
<path stroke="#555" stroke-width="1" d="M1768 508H1773M1768 544H1773M1768 580.1H1773M1768 616.2H1773M1768 652.3H1773M1768 688.4H1773M1768 724.5H1773M1768 760.6H1773M1768 868.9H1773"/>
<rect x="1768" y="727" width="54" height="16.3" fill="#f44336"/>
<rect x="1768" y="784.3" width="54" height="16.4" fill="#0000ff"/>
<rect x="1768" y="825.3" width="54" height="16.4" fill="#0000ff"/>
<path stroke="#fff" stroke-width="1" d="M1768 735H1772M1768 792.5H1772M1768 833.5H1772"/>
<text x="1778" y="739.4" class="lb" textLength="38" lengthAdjust="spacingAndGlyphs">1.22707</text>
<text x="1778" y="796.9" class="lb" textLength="38" lengthAdjust="spacingAndGlyphs">1.21134</text>
<text x="1778" y="837.9" class="lb" textLength="38" lengthAdjust="spacingAndGlyphs">1.20016</text>
<rect x="1783.7" y="502.7" width="26.6" height="16.3" rx="3" fill="#fff" stroke="#d6d6e0"/>
<text x="1797" y="514.8" font-size="11" fill="#555" text-anchor="middle">CAD</text>
<!-- daily time axis -->
<path stroke="#555" stroke-width="1" d="M925.3 891V896M1004.3 891V896M1084 891V896M1163.3 891V896M1242.7 891V896M1346 891V896M1441.3 891V896M1520.3 891V896M1599.7 891V896M1687 891V896M1764.7 891V896"/>
<g class="ax" text-anchor="middle" clip-path="url(#cDt)">
<text x="926" y="908.2">18</text><text x="1004.3" y="908.2">Feb</text><text x="1084" y="908.2">15</text><text x="1163.3" y="908.2">Mar</text><text x="1242.7" y="908.2">15</text><text x="1346" y="908.2">Apr</text><text x="1441.3" y="908.2">19</text><text x="1520.3" y="908.2">May</text><text x="1599.7" y="908.2">17</text><text x="1687" y="908.2">Jun</text><text x="1768" y="908.2">14</text>
</g>
<g fill="none" stroke="#555" stroke-width="1.3">
<rect x="919.5" y="495.5" width="907" height="423"/>
<line x1="1768.5" y1="495.5" x2="1768.5" y2="918.5"/>
<line x1="919.5" y1="890.5" x2="1768.5" y2="890.5"/>
</g>

<!-- TradingView logo -->
<path d="M6 945 L6 939 Q7 932 13 933.5 Q16 928.5 21.5 931 Q27 929 30 934.5 Q32.5 937 32 945 Z" fill="#2196f3"/>
<polyline points="9,942 15,936.5 20,940.5 27,934.5" fill="none" stroke="#fff" stroke-width="1.6"/>
<text x="34" y="941.6" font-size="13" fill="#131722" textLength="71" lengthAdjust="spacingAndGlyphs">TradingView</text>
</svg>
</body></html>
